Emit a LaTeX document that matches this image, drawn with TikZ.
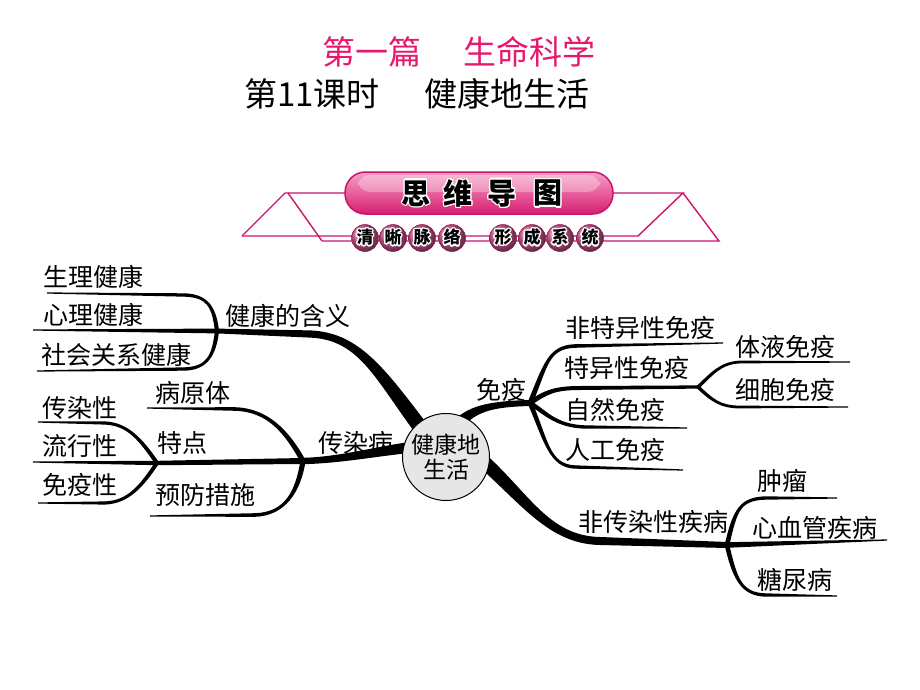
\documentclass[tikz,border=0pt]{standalone}
\usepackage{fontspec}
\usepackage[copies]{contour}
\newfontfamily\cjk{Noto Sans CJK SC}
\usetikzlibrary{calc}
\definecolor{titlepink}{RGB}{232,24,110}
\definecolor{mag}{RGB}{200,20,110}
\definecolor{pillA}{RGB}{246,160,198}
\definecolor{pillB}{RGB}{214,30,112}
\definecolor{ballc}{RGB}{234,100,158}
\definecolor{centerfill}{RGB}{230,230,230}
\contourlength{1.3pt}
% tapered curved branch: start, control1, control2, end, half-width start, half-width end
\newcommand\tbranch[6]{\fill ($#1!#5pt!90:#2$) .. controls ($#2!#5pt!-90:#1$) and ($#3!#6pt!90:#4$) .. ($#4!#6pt!-90:#3$) -- ($#4!#6pt!90:#3$) .. controls ($#3!#6pt!-90:#4$) and ($#2!#5pt!90:#1$) .. ($#1!#5pt!-90:#2$) -- cycle;}
% tapered straight branch
\newcommand\tline[4]{\fill ($#1!#3pt!90:#2$) -- ($#2!#4pt!-90:#1$) -- ($#2!#4pt!90:#1$) -- ($#1!#3pt!-90:#2$) -- cycle;}
\begin{document}
\begin{tikzpicture}[x=1pt,y=-1pt,
  lbl/.style={anchor=west, inner sep=0pt, font=\cjk\fontsize{25}{28}\selectfont},
  ttl/.style={anchor=west, inner sep=0pt, font=\cjk\fontsize{33}{36}\selectfont},
  bannertxt/.style={inner sep=0pt, font=\cjk\bfseries\fontsize{29}{30}\selectfont},
  ballnode/.style={circle, inner sep=0pt, minimum size=27, ball color=ballc, draw=mag!70!black, line width=0.5, font=\cjk\bfseries\fontsize{17}{18}\selectfont},
  deco/.style={draw=mag, line width=1.4}
]
\fill[white] (0,0) rectangle (920,690);
\path[use as bounding box] (0,0) rectangle (920,690);

% ---------- titles ----------
\node[ttl, text=titlepink] (t1a) at (322,52) {第一篇};
\node[ttl, text=titlepink] (t1b) at (463,52) {生命科学};
\node[ttl] (t2a) at (244,94) {第11课时};
\node[ttl] (t2b) at (424,94) {健康地生活};

% ---------- banner ----------
\draw[deco] (242,236) -- (285,193) -- (345,193);
\draw[deco] (288,193) -- (322,241);
\draw[deco] (242,236) -- (638,236) -- (683,193) -- (613,193);
\draw[deco] (322,241) -- (719,241) -- (683,193);
\draw[mag, line width=1.5, top color=pillA, bottom color=pillB, rounded corners=20.5] (345,172) rectangle (613,214);
\fill[white, opacity=0.3, rounded corners=12] (358,175) rectangle (600,192);
\foreach \c/\x [count=\i] in {思/416,维/458,导/502,图/548}
  \node[bannertxt] (bt\i) at (\x,194) {\contour{white}{\c}};
\foreach \c/\x [count=\i] in {清/365,晰/393,脉/422,络/452,形/503,成/532,系/560,统/590}
  \node[ballnode] (ct\i) at (\x,238) {\contour{white}{\c}};

% ---------- junction coordinates ----------
\coordinate (jA) at (217,331);
\coordinate (jB) at (303,461);
\coordinate (jC) at (157,463);
\coordinate (jD) at (530,403);
\coordinate (jE) at (698,387);
\coordinate (jF) at (727,545);

% ---------- branch: 健康的含义 ----------
\tbranch{(430,440)}{(382,378)}{(362,336)}{(310,334)}{7.5}{3.6}
\tline{(310,334)}{(jA)}{3.6}{2.4}
\tline{(jA)}{(33,330)}{2.4}{0.6}
\tbranch{(jA)}{(214,306)}{(207,296)}{(185,295)}{2.1}{1.7}
\tline{(185,295)}{(47,293)}{1.7}{0.6}
\tbranch{(jA)}{(214,356)}{(207,368)}{(185,369)}{2.1}{1.7}
\tline{(185,369)}{(37,371)}{1.7}{0.6}

% ---------- branch: 传染病 ----------
\tbranch{(425,446)}{(385,449)}{(345,460)}{(jB)}{5.5}{3.2}
\tbranch{(jB)}{(287,432)}{(268,410)}{(235,409)}{2.6}{1.8}
\tline{(235,409)}{(147,408)}{1.8}{0.6}
\tline{(jB)}{(jC)}{3}{2.2}
\tbranch{(jB)}{(298,492)}{(285,514)}{(255,515)}{2.6}{1.8}
\tline{(255,515)}{(150,516)}{1.8}{0.6}
\tbranch{(jC)}{(141,440)}{(128,424)}{(105,423)}{2}{1.6}
\tline{(105,423)}{(38,422)}{1.6}{0.6}
\tline{(jC)}{(33,462)}{2.2}{0.6}
\tbranch{(jC)}{(141,487)}{(128,502)}{(105,503)}{2}{1.6}
\tline{(105,503)}{(38,503)}{1.6}{0.6}

% ---------- branch: 免疫 ----------
\tbranch{(455,428)}{(470,408)}{(492,404)}{(jD)}{5.5}{3}
\tbranch{(jD)}{(546,365)}{(548,347)}{(575,346)}{2.5}{1.8}
\tline{(575,346)}{(723,343)}{1.8}{0.6}
\tbranch{(jD)}{(546,392)}{(555,388)}{(580,388)}{2.5}{2}
\tline{(580,388)}{(jE)}{2}{1.6}
\tbranch{(jD)}{(546,413)}{(556,426)}{(585,427)}{2.3}{1.7}
\tline{(585,427)}{(687,428)}{1.7}{0.6}
\tbranch{(jD)}{(546,440)}{(549,466)}{(575,467)}{2.3}{1.7}
\tline{(575,467)}{(683,470)}{1.7}{0.6}
\tbranch{(jE)}{(712,374)}{(720,363)}{(740,362)}{1.7}{1.4}
\tline{(740,362)}{(850,362)}{1.4}{0.6}
\tbranch{(jE)}{(712,400)}{(720,407)}{(740,407)}{1.7}{1.4}
\tline{(740,407)}{(848,407)}{1.4}{0.6}

% ---------- branch: 非传染性疾病 ----------
\tbranch{(470,450)}{(522,492)}{(545,540)}{(600,541)}{7}{4}
\tline{(600,541)}{(jF)}{4}{3}
\tbranch{(jF)}{(735,510)}{(740,499)}{(765,498)}{2.3}{1.7}
\tline{(765,498)}{(837,498)}{1.7}{0.6}
\tline{(jF)}{(887,540)}{2.8}{0.6}
\tbranch{(jF)}{(735,580)}{(742,594)}{(765,595)}{2.3}{1.7}
\tline{(765,595)}{(837,596)}{1.7}{0.6}

% ---------- centre ----------
\node[circle, draw, line width=1, fill=centerfill, minimum size=87, inner sep=0pt, align=center,
      font=\cjk\fontsize{23}{25}\selectfont] (ctr) at (446,457) {健康地\\生活};

% ---------- labels ----------
\node[lbl] (l1) at (43,277) {生理健康};
\node[lbl] (l2) at (43,315) {心理健康};
\node[lbl] (l3) at (41,355) {社会关系健康};
\node[lbl] (l4) at (225,316) {健康的含义};
\node[lbl] (l5) at (155,393) {病原体};
\node[lbl] (l6) at (42,408) {传染性};
\node[lbl] (l7) at (157,443) {特点};
\node[lbl] (l8) at (318,443) {传染病};
\node[lbl] (l9) at (42,446) {流行性};
\node[lbl] (l10) at (42,485) {免疫性};
\node[lbl] (l11) at (155,495) {预防措施};
\node[lbl] (r1) at (476,390) {免疫};
\node[lbl] (r2) at (565,328) {非特异性免疫};
\node[lbl] (r3) at (564,368) {特异性免疫};
\node[lbl] (r4) at (735,347) {体液免疫};
\node[lbl] (r5) at (735,390) {细胞免疫};
\node[lbl] (r6) at (565,410) {自然免疫};
\node[lbl] (r7) at (565,450) {人工免疫};
\node[lbl] (r8) at (578,522) {非传染性疾病};
\node[lbl] (r9) at (757,481) {肿瘤};
\node[lbl] (r10) at (752,528) {心血管疾病};
\node[lbl] (r11) at (757,580) {糖尿病};
\end{tikzpicture}
\end{document}
